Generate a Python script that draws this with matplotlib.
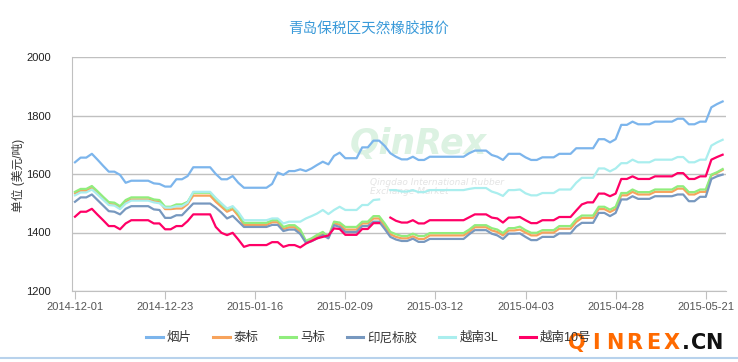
import numpy as np
import matplotlib.pyplot as plt

plt.rcParams['font.family'] = ['Liberation Sans', 'Noto Sans CJK SC', 'DejaVu Sans']

nan = np.nan

# ---- data (USD / t), one value per trading day ----
tick_labels = ["2014-12-01", "2014-12-23", "2015-01-16", "2015-02-09",
               "2015-03-12", "2015-04-03", "2015-04-28", "2015-05-21"]
tick_pos = [0, 16, 32, 48, 64, 80, 96, 112]

yanpian = [1640, 1656, 1656, 1669, 1649, 1628, 1608, 1608, 1597, 1570, 1577, 1577, 1577, 1577, 1568, 1566, 1557, 1557, 1582, 1582,
           1593, 1623, 1623, 1623, 1623, 1600, 1582, 1582, 1593, 1570, 1553, 1553, 1553, 1553, 1553, 1566, 1605, 1597,
           1610, 1610, 1616, 1610, 1619, 1631, 1642, 1633, 1662, 1673, 1654, 1654, 1654, 1691, 1691, 1714, 1714, 1696,
           1671, 1659, 1650, 1650, 1659, 1648, 1648, 1659, 1659, 1659, 1659, 1659, 1659, 1659, 1671, 1680, 1680, 1680, 1665, 1659,
           1648, 1669, 1669, 1669, 1657, 1648, 1648, 1657, 1657, 1657, 1669, 1669, 1669, 1688, 1688, 1688, 1688, 1719, 1719, 1708,
           1719, 1768, 1768, 1779, 1770, 1770, 1770, 1779, 1779, 1779, 1779, 1789, 1789, 1770, 1770, 1779, 1779, 1828, 1839, 1848]

taibiao = [1534, 1543, 1543, 1552, 1534, 1515, 1497, 1496, 1485, 1504, 1513, 1513, 1513, 1513, 1507, 1505, 1480, 1480, 1482, 1482,
           1497, 1526, 1526, 1526, 1526, 1505, 1488, 1471, 1480, 1457, 1426, 1426, 1426, 1426, 1426, 1435, 1435, 1412,
           1418, 1418, 1402, 1368, 1375, 1386, 1397, 1383, 1431, 1427, 1410, 1410, 1410, 1431, 1431, 1448, 1448, 1422,
           1394, 1385, 1380, 1380, 1387, 1378, 1378, 1390, 1390, 1390, 1390, 1390, 1390, 1390, 1402, 1418, 1418, 1418, 1407, 1402,
           1390, 1407, 1407, 1410, 1400, 1390, 1390, 1400, 1400, 1400, 1413, 1413, 1413, 1436, 1450, 1450, 1450, 1480, 1480, 1470,
           1480, 1527, 1527, 1539, 1530, 1530, 1530, 1539, 1539, 1539, 1539, 1550, 1550, 1530, 1530, 1539, 1539, 1595, 1604, 1614]

mabiao = [1539, 1549, 1549, 1559, 1541, 1522, 1504, 1502, 1490, 1511, 1520, 1520, 1520, 1520, 1513, 1511, 1488, 1488, 1496, 1496,
          1505, 1536, 1536, 1536, 1536, 1515, 1497, 1479, 1488, 1465, 1433, 1433, 1433, 1433, 1433, 1442, 1442, 1419,
          1425, 1425, 1410, 1372, 1380, 1392, 1402, 1385, 1437, 1434, 1419, 1419, 1419, 1437, 1437, 1456, 1456, 1431,
          1402, 1394, 1388, 1388, 1396, 1388, 1388, 1398, 1398, 1398, 1398, 1398, 1398, 1398, 1410, 1425, 1425, 1425, 1415, 1410,
          1398, 1415, 1415, 1420, 1408, 1399, 1399, 1408, 1408, 1408, 1422, 1422, 1422, 1445, 1458, 1458, 1458, 1488, 1488, 1478,
          1488, 1535, 1535, 1547, 1538, 1538, 1538, 1547, 1547, 1547, 1547, 1558, 1558, 1538, 1538, 1547, 1547, 1598, 1606, 1617]

yinni = [1505, 1520, 1520, 1530, 1511, 1492, 1473, 1471, 1462, 1481, 1490, 1490, 1490, 1490, 1479, 1477, 1450, 1450, 1459, 1459,
         1479, 1499, 1499, 1499, 1499, 1485, 1468, 1448, 1457, 1438, 1419, 1419, 1419, 1419, 1419, 1426, 1426, 1405,
         1410, 1410, 1395, 1365, 1370, 1380, 1391, 1380, 1425, 1419, 1402, 1402, 1402, 1422, 1422, 1437, 1437, 1412,
         1385, 1376, 1371, 1371, 1379, 1368, 1368, 1378, 1378, 1378, 1378, 1378, 1378, 1378, 1394, 1408, 1408, 1408, 1396, 1390,
         1378, 1396, 1396, 1397, 1385, 1374, 1374, 1385, 1385, 1385, 1397, 1397, 1397, 1420, 1433, 1433, 1433, 1467, 1467, 1456,
         1467, 1513, 1513, 1524, 1515, 1515, 1515, 1524, 1524, 1524, 1524, 1530, 1530, 1507, 1507, 1522, 1522, 1583, 1592, 1598]

yuenan_3l = [1527, 1537, 1537, 1547, 1530, 1512, 1494, 1492, 1480, 1499, 1509, 1509, 1509, 1509, 1503, 1500, 1485, 1485, 1490, 1490,
             1502, 1539, 1539, 1539, 1539, 1518, 1500, 1482, 1490, 1470, 1442, 1442, 1442, 1442, 1442, 1448, 1448, 1431,
             1437, 1437, 1437, 1448, 1456, 1465, 1477, 1463, 1477, 1488, 1477, 1477, 1477, 1494, 1494, 1511, 1513, nan,
             1545, 1545, 1540, 1540, 1545, 1538, 1538, 1545, 1545, 1545, 1545, 1545, 1545, 1545, 1549, 1552, 1552, 1552, 1540, 1534,
             1525, 1545, 1545, 1547, 1534, 1527, 1527, 1535, 1535, 1535, 1547, 1547, 1547, 1570, 1587, 1587, 1587, 1619, 1619, 1609,
             1619, 1637, 1637, 1649, 1640, 1640, 1640, 1649, 1649, 1649, 1649, 1658, 1658, 1640, 1640, 1649, 1649, 1697, 1708, 1717]

yuenan_10 = [1454, 1471, 1471, 1481, 1461, 1442, 1422, 1422, 1411, 1431, 1442, 1442, 1442, 1442, 1431, 1431, 1411, 1411, 1422, 1422,
             1439, 1462, 1462, 1462, 1462, 1419, 1399, 1391, 1399, 1376, 1351, 1357, 1357, 1357, 1357, 1367, 1367, 1351,
             1357, 1357, 1349, 1362, 1371, 1380, 1385, 1390, 1414, 1412, 1392, 1392, 1392, 1412, 1412, 1432, 1432, nan,
             1451, 1440, 1434, 1434, 1442, 1431, 1431, 1442, 1442, 1442, 1442, 1442, 1442, 1442, 1452, 1462, 1462, 1462, 1451, 1448,
             1434, 1451, 1451, 1453, 1442, 1432, 1432, 1442, 1442, 1442, 1453, 1453, 1453, 1475, 1496, 1503, 1503, 1533, 1533, 1524,
             1533, 1583, 1583, 1592, 1583, 1583, 1583, 1592, 1592, 1592, 1592, 1603, 1603, 1583, 1583, 1592, 1592, 1649, 1658, 1666]

series_names = ["烟片", "泰标", "马标", "印尼标胶", "越南3L", "越南10号"]
series_values = [yanpian, taibiao, mabiao, yinni, yuenan_3l, yuenan_10]
colors = ["#7cb5ec", "#f7a35c", "#90ed7d", "#7798bf", "#aaeeee", "#ff0066"]

W, H = 738, 362
fig = plt.figure(figsize=(W / 100, H / 100), dpi=100)
ax = fig.add_axes([72 / W, 1 - 291 / H, 654 / W, 234 / H])

# --- faint exchange watermark behind the lines ---
ax.text(0.53, 0.63, "QinRex", transform=ax.transAxes, fontsize=25, fontweight="bold",
        fontstyle="italic", color="#dcf2e2", ha="center", va="center", family="DejaVu Sans", zorder=0)
ax.text(0.455, 0.445, "Qingdao International Rubber\nExchange Market", transform=ax.transAxes,
        fontsize=6.5, fontstyle="italic", color="#e4e4e4", ha="left", va="center",
        family="DejaVu Sans", linespacing=1.0, zorder=0)

x = np.arange(len(yanpian))
for name, vals, c in zip(series_names, series_values, colors):
    ax.plot(x, vals, color=c, lw=1.6, label=name, solid_joinstyle="round", zorder=3)

ax.set_xlim(-0.53, 115.6)
ax.set_ylim(1200, 2000)
ax.set_yticks([1200, 1400, 1600, 1800, 2000])
ax.grid(axis="y", color="#c0c0c0", lw=1)
ax.set_axisbelow(True)
for s in ["top", "right"]:
    ax.spines[s].set_visible(False)
for s in ["left", "bottom"]:
    ax.spines[s].set_color("#c0c0c0")
ax.tick_params(axis="y", length=0, pad=15, labelsize=8, labelcolor="#222222")
ax.set_xticks(tick_pos, tick_labels)
ax.tick_params(axis="x", length=6, color="#c0c0c0", pad=2, labelsize=8, labelcolor="#555555")

fig.text(369 / W, 1 - 30 / H, "青岛保税区天然橡胶报价", fontsize=10.5, color="#3a9ad9",
         ha="center", va="center")
fig.text(18 / W, 1 - 175 / H, "单位 (美元/吨)", rotation=90, fontsize=8.5,
         color="#333333", ha="center", va="center")

leg = fig.legend(loc="center", bbox_to_anchor=(0.5, 1 - 338 / H), ncol=6, frameon=False,
                 fontsize=9, handlelength=1.3, handletextpad=0.35, columnspacing=1.7)
for t in leg.get_texts():
    t.set_color("#333333")
for l in leg.get_lines():
    l.set_linewidth(2.2)

# --- site stamp bottom right (sits over the last legend entry, as in the source) ---
stamp_letters = ["Q", "I", "N", "R", "E", "X", ".", "C", "N"]
stamp_centers = [577, 596, 615, 634, 653, 672, 686, 699, 714]
stamp_colors = ["#ff6a00"] * 6 + ["#111111"] * 3
for ch, cx, cc in zip(stamp_letters, stamp_centers, stamp_colors):
    fig.text(cx / W, 1 - 343 / H, ch, fontsize=15, fontweight="bold", color=cc,
             ha="center", va="center", family="DejaVu Sans")

fig.add_artist(plt.Line2D([0, 1], [1 - 358 / H] * 2, color="#b8d2ec", lw=1.5))

fig.savefig("out.png", dpi=100)
